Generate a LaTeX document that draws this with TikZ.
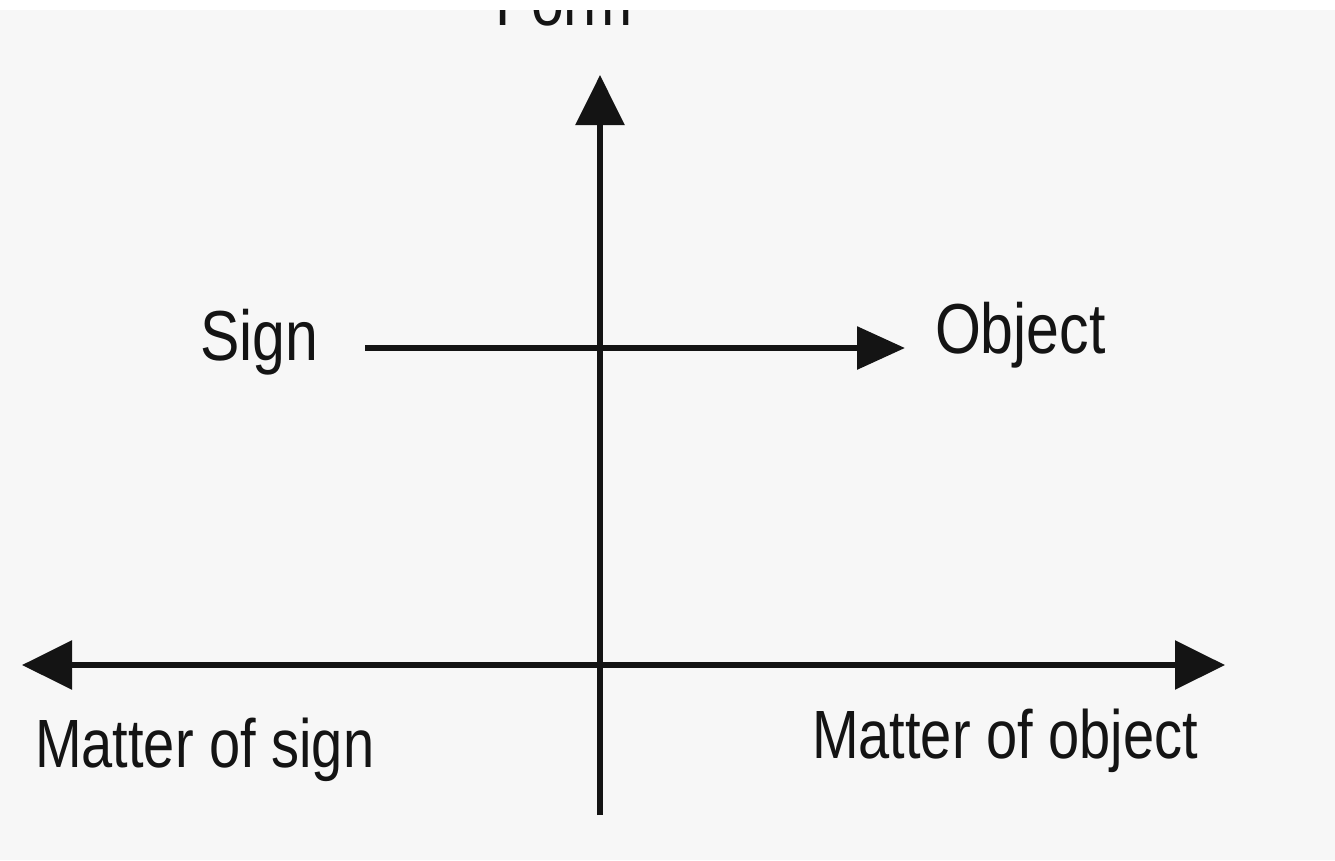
\documentclass[tikz,border=0pt]{standalone}
\usepackage{fontspec}
\setmainfont{Liberation Sans}
\usetikzlibrary{arrows.meta}
\definecolor{bg}{RGB}{247,247,247}
\definecolor{ink}{RGB}{20,20,20}
\begin{document}
\begin{tikzpicture}[x=1pt,y=-1pt,
  lbl/.style={anchor=base west,inner sep=0pt,outer sep=0pt,text=ink,font=\fontsize{56}{60}\selectfont},
  biglbl/.style={lbl,font=\fontsize{59}{62}\selectfont},
  axis/.style={line width=6pt,draw=ink},
  bigtip/.style={-{Triangle[length=50pt,width=48pt]}},
  smalltip/.style={-{Triangle[length=48pt,width=42pt]}}]
\useasboundingbox (0,0) rectangle (1335,860);
\fill[bg] (0,0) rectangle (1335,860);
% text
\node[biglbl] (form) at (495,25) {\scalebox{1}[1.2]{Form}};
\node[biglbl] (sign) at (200,360) {\scalebox{1}[1.2]{Sign}};
\node[biglbl] (object) at (935,353) {\scalebox{1}[1.2]{Object}};
\node[lbl] (msign) at (35,767) {\scalebox{1}[1.22]{Matter of sign}};
\node[lbl] (mobject) at (812,758) {\scalebox{1}[1.22]{Matter of object}};
\fill[white] (0,-100) rectangle (1335,10);
% connector ends
\coordinate (vbot) at (600,815);
\coordinate (vtop) at (600,75);
\coordinate (hleft) at (22,665);
\coordinate (hright) at (1225,665);
\coordinate (sstart) at (365,348);
\coordinate (send) at (905,348);
% arrows
\draw[axis,bigtip] (vbot) -- (vtop);
\draw[axis,{Triangle[length=50pt,width=48pt]}-{Triangle[length=50pt,width=48pt]}] (hleft) -- (hright);
\draw[axis,smalltip] (sstart) -- (send);
\end{tikzpicture}
\end{document}
